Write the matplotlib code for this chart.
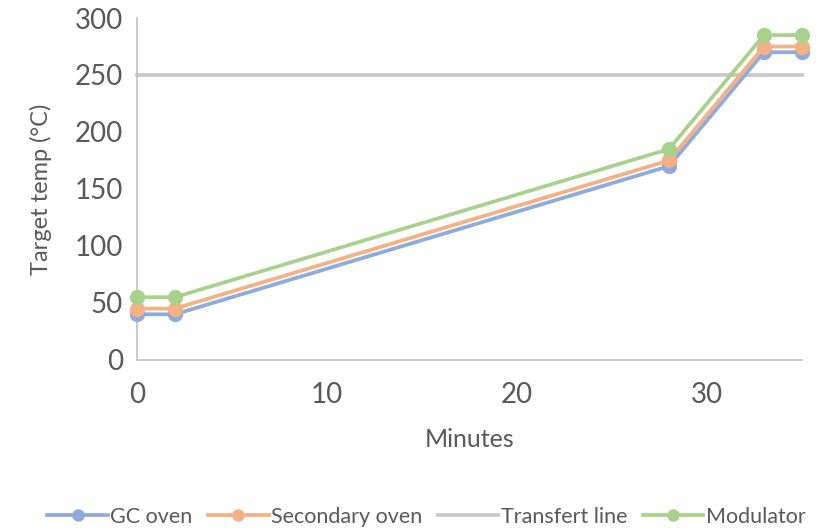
import matplotlib
matplotlib.use('Agg')
import matplotlib.pyplot as plt

plt.rcParams['font.family'] = ['Lato', 'DejaVu Sans']

minutes = [0, 2, 28, 33, 35]
gc_oven = [40, 40, 170, 270, 270]
secondary_oven = [45, 45, 175, 275, 275]
modulator = [55, 55, 185, 285, 285]
transfer_x = [0, 35]
transfer_line = [250, 250]

blue = '#8FAADC'
orange = '#F4B183'
grey = '#C9C9C9'
green = '#A9D18E'
text_col = '#595959'

fig = plt.figure(figsize=(8.2, 5.3), dpi=100)
ax = fig.add_axes([0.167, 0.321, 0.811, 0.645])

ax.plot(minutes, gc_oven, color=blue, lw=2.7, marker='o', ms=10, label='GC oven', zorder=3, clip_on=False)
ax.plot(minutes, secondary_oven, color=orange, lw=2.7, marker='o', ms=10, label='Secondary oven', zorder=4, clip_on=False)
ax.plot(transfer_x, transfer_line, color=grey, lw=2.7, label='Transfert line', zorder=2, clip_on=False)
ax.plot(minutes, modulator, color=green, lw=2.7, marker='o', ms=10, label='Modulator', zorder=5, clip_on=False)

ax.set_xlim(0, 35)
ax.set_ylim(0, 300)
ax.set_xticks([0, 10, 20, 30])
ax.set_yticks(range(0, 301, 50))
ax.tick_params(length=0, labelsize=20, labelcolor=text_col, pad=10)
ax.tick_params(axis='x', pad=16)

for s in ['top', 'right']:
    ax.spines[s].set_visible(False)
for s in ['left', 'bottom']:
    ax.spines[s].set_color('#BFBFBF')
    ax.spines[s].set_linewidth(1.2)

ax.set_xlabel('Minutes', fontsize=18, color=text_col, labelpad=14)
ax.set_ylabel('Target temp (°C)', fontsize=17, color=text_col, labelpad=16)

leg = fig.legend(loc='center', bbox_to_anchor=(0.52, 0.025), ncol=4, frameon=False,
                 fontsize=15.5, handlelength=2.8, columnspacing=0.75, handletextpad=0.1,
                 markerscale=0.8)
for t in leg.get_texts():
    t.set_color(text_col)

fig.savefig('out.png', dpi=100)
